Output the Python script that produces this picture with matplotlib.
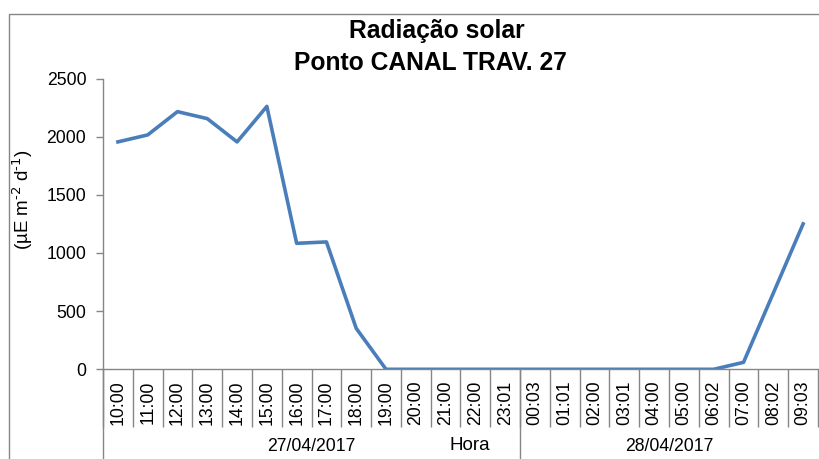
import numpy as np
import matplotlib
matplotlib.use("Agg")
import matplotlib.pyplot as plt
import matplotlib.transforms as mtransforms
from matplotlib.patches import Rectangle

plt.rcParams['font.family'] = ['Liberation Sans', 'DejaVu Sans']
plt.rcParams['mathtext.default'] = 'regular'

# dados
horas = ['10:00', '11:00', '12:00', '13:00', '14:00', '15:00', '16:00', '17:00',
         '18:00', '19:00', '20:00', '21:00', '22:00', '23:01', '00:03', '01:01',
         '02:00', '03:01', '04:00', '05:00', '06:02', '07:00', '08:02', '09:03']
radiacao = [1955, 2015, 2215, 2155, 1955, 2260, 1083, 1095, 352, 0, 0, 0, 0, 0,
            0, 0, 0, 0, 0, 0, 0, 60, 655, 1250]
dias = ['27/04/2017', '28/04/2017']
n_por_dia = [14, 10]

cinza = '#868686'
azul = '#4a7ebb'

fig = plt.figure(figsize=(8.2, 4.59), dpi=100)
ax = fig.add_axes([103/820, 1 - 369.3/459, 715/820, 290.8/459])

x = np.arange(len(horas))
ax.plot(x, radiacao, color=azul, lw=2.6, solid_joinstyle='round')

ax.set_xlim(-0.5, len(horas) - 0.5)
ax.set_ylim(0, 2500)
ax.set_yticks(np.arange(0, 2501, 500))
ax.set_xticks(x)
ax.set_xticklabels(horas, rotation=90)
ax.set_xticks(np.arange(-0.5, len(horas), 1), minor=True)

for s in ['top', 'right']:
    ax.spines[s].set_visible(False)
for s in ['left', 'bottom']:
    ax.spines[s].set_color(cinza)
    ax.spines[s].set_linewidth(1.0)

ax.tick_params(axis='x', which='major', length=0, pad=8, labelsize=12.7)
ax.tick_params(axis='x', which='minor', length=42, color=cinza, width=1.0)
ax.tick_params(axis='y', length=5, color=cinza, width=1.0, pad=7, labelsize=12.7)

# separadores dos dias e rotulos
trans = mtransforms.blended_transform_factory(ax.transData, ax.transAxes)
inicio = -0.5
for dia, n in zip(dias, n_por_dia):
    ax.plot([inicio, inicio], [0, -0.4], color=cinza, lw=1.0,
            transform=trans, clip_on=False)
    ax.text(inicio + n/2, -0.267, dia, transform=trans, ha='center',
            va='center', fontsize=12.7)
    inicio += n
ax.text(11.82, -0.263, 'Hora', transform=trans, ha='center', va='center',
        fontsize=13.5)

fig.text(23/820, 1 - 200/459, r'(µE m$^{\text{-2}}$ d$^{\text{-1}}$)', rotation=90,
         ha='center', va='center', fontsize=13.5)

fig.text(437/820, 1 - 30.7/459, 'Radiação solar', ha='center', va='center',
         fontsize=17.7, fontweight='bold')
fig.text(430/820, 1 - 63.3/459, 'Ponto CANAL TRAV. 27', ha='center',
         va='center', fontsize=17.7, fontweight='bold')

# moldura do grafico
fig.patches.append(Rectangle((9/820, -0.1), 1.2, 1 - 14.3/459 + 0.1,
                             transform=fig.transFigure, fill=False,
                             edgecolor=cinza, lw=1.0))

fig.savefig('out.png', dpi=100)
